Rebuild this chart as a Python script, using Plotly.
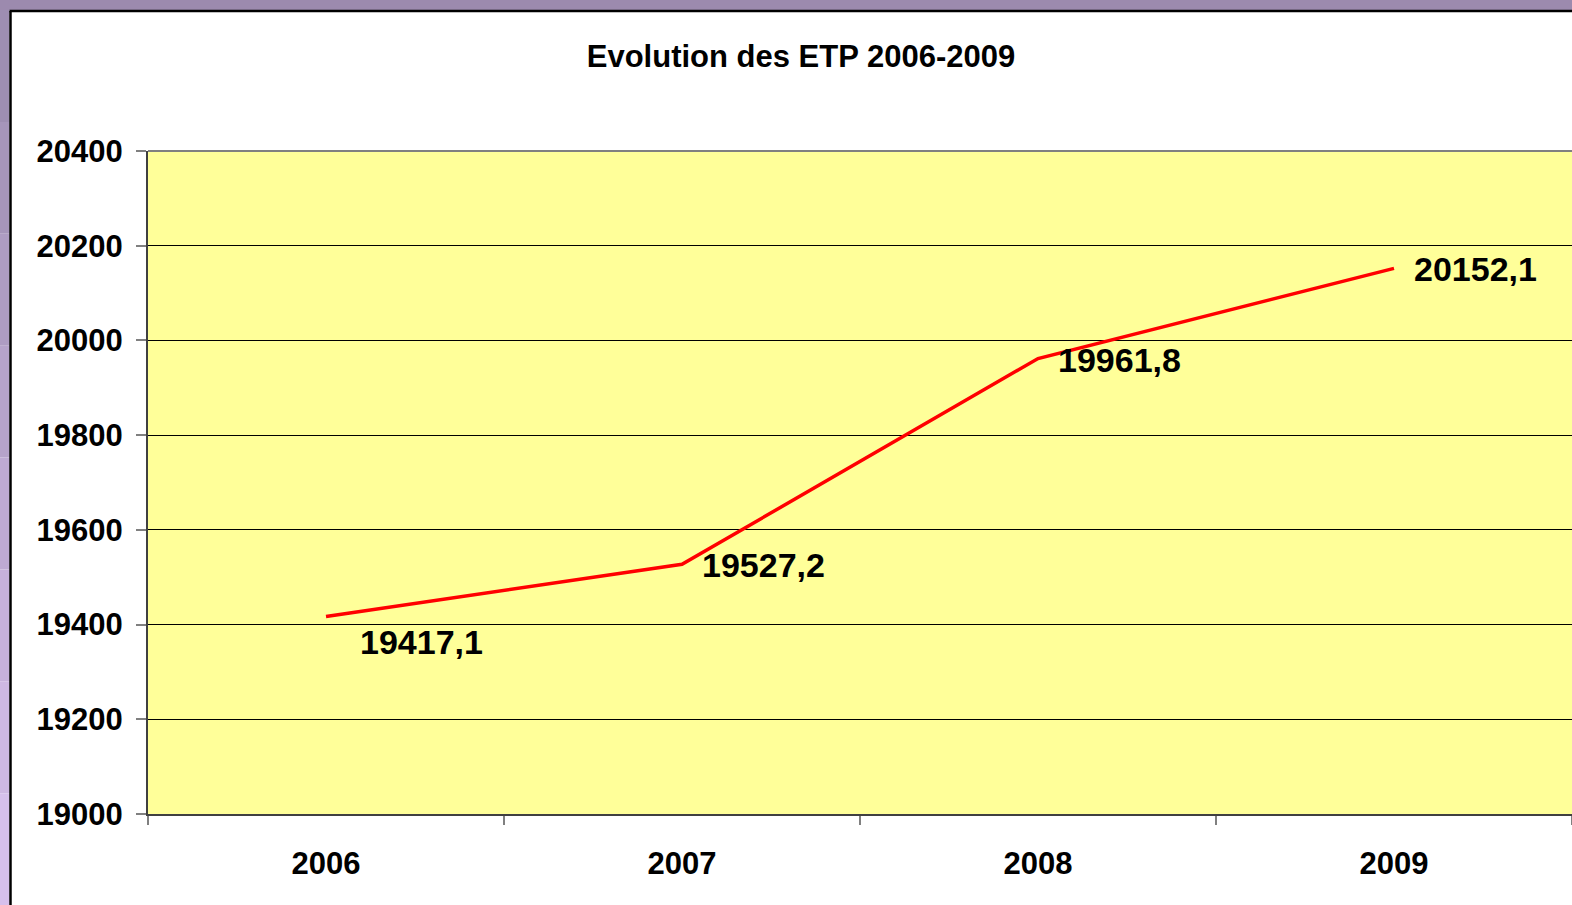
import plotly.graph_objects as go

annees = ["2006", "2007", "2008", "2009"]
etp = [19417.1, 19527.2, 19961.8, 20152.1]
etiquettes = ["19417,1", "19527,2", "19961,8", "20152,1"]

W, H = 1572, 905
L, R, T, B = 148, 1572, 151, 814
FONT = "Liberation Sans, Arial, sans-serif"


def px_x(v):
    return (v - L) / (R - L)


def px_y(v):
    return (B - v) / (B - T)


fig = go.Figure()
fig.add_trace(go.Scatter(x=annees, y=etp, mode="lines",
                         line=dict(color="#ff0000", width=3.5), hoverinfo="skip"))

# étiquettes de valeur (x = index de catégorie)
for i, (v, t) in enumerate(zip(etp, etiquettes)):
    fig.add_annotation(x=i, y=v, xref="x", yref="y", text=f"<b>{t}</b>", showarrow=False,
                       xanchor="left", yanchor="middle",
                       xshift=32 if i == 0 else 18, yshift=-26 if i == 0 else -1,
                       font=dict(family=FONT, size=34, color="black"))

shapes = []
# cadre violet
shapes.append(dict(type="rect", xref="paper", yref="paper", x0=px_x(0), x1=px_x(W),
                   y0=px_y(0), y1=px_y(10), fillcolor="#9c8aae", line_width=0, layer="below"))
segs = 8
for k in range(segs):
    y0 = 10 + k * (H - 10) / segs
    y1 = 10 + (k + 1) * (H - 10) / segs
    f = k / (segs - 1)
    c = (int(158 + f * (214 - 158)), int(142 + f * (192 - 142)), int(178 + f * (236 - 178)))
    shapes.append(dict(type="rect", xref="paper", yref="paper", x0=px_x(0), x1=px_x(9.5),
                       y0=px_y(y0), y1=px_y(y1), fillcolor=f"rgb{c}", line_width=0, layer="below"))
shapes.append(dict(type="line", xref="paper", yref="paper", x0=px_x(10.5), x1=px_x(10.5),
                   y0=px_y(11), y1=px_y(H), line=dict(color="black", width=2.5)))
shapes.append(dict(type="line", xref="paper", yref="paper", x0=px_x(9.5), x1=px_x(W),
                   y0=px_y(11), y1=px_y(11), line=dict(color="black", width=2.5)))
# bord haut de la zone de tracé
shapes.append(dict(type="line", xref="paper", yref="paper", x0=0, x1=1, y0=1, y1=1,
                   line=dict(color="#808080", width=2)))

fig.update_layout(
    width=W, height=H,
    margin=dict(l=L, r=W - R, t=T, b=H - B),
    paper_bgcolor="white", plot_bgcolor="#ffff99",
    showlegend=False,
    shapes=shapes,
    title=dict(text="<b>Evolution des ETP 2006-2009</b>", x=801 / W, xref="container",
               xanchor="center", y=1 - 56 / H, yanchor="middle",
               font=dict(family=FONT, size=31, color="black")),
    font=dict(family=FONT, color="black"),
)
fig.update_xaxes(type="category", range=[-0.5, 3.5], showgrid=False,
                 showline=True, linecolor="#404040", linewidth=2,
                 ticks="outside", tickson="boundaries", ticklen=9, tickcolor="#808080",
                 tickwidth=1.5, ticklabelstandoff=21,
                 tickfont=dict(family=FONT, size=31, color="black"),
                 tickprefix="<b>", ticksuffix="</b>")
fig.update_yaxes(range=[19000, 20400], dtick=200, tickformat="d",
                 showgrid=True, gridcolor="black", gridwidth=1, zeroline=False,
                 showline=True, linecolor="#404040", linewidth=2,
                 ticks="outside", ticklen=10, tickcolor="#808080", tickwidth=1.5,
                 ticklabelstandoff=7,
                 tickfont=dict(family=FONT, size=31, color="black"),
                 tickprefix="<b>", ticksuffix="</b>")

fig.write_html("out.html", config={"displayModeBar": False},
               post_script="document.body.style.margin='0';")
